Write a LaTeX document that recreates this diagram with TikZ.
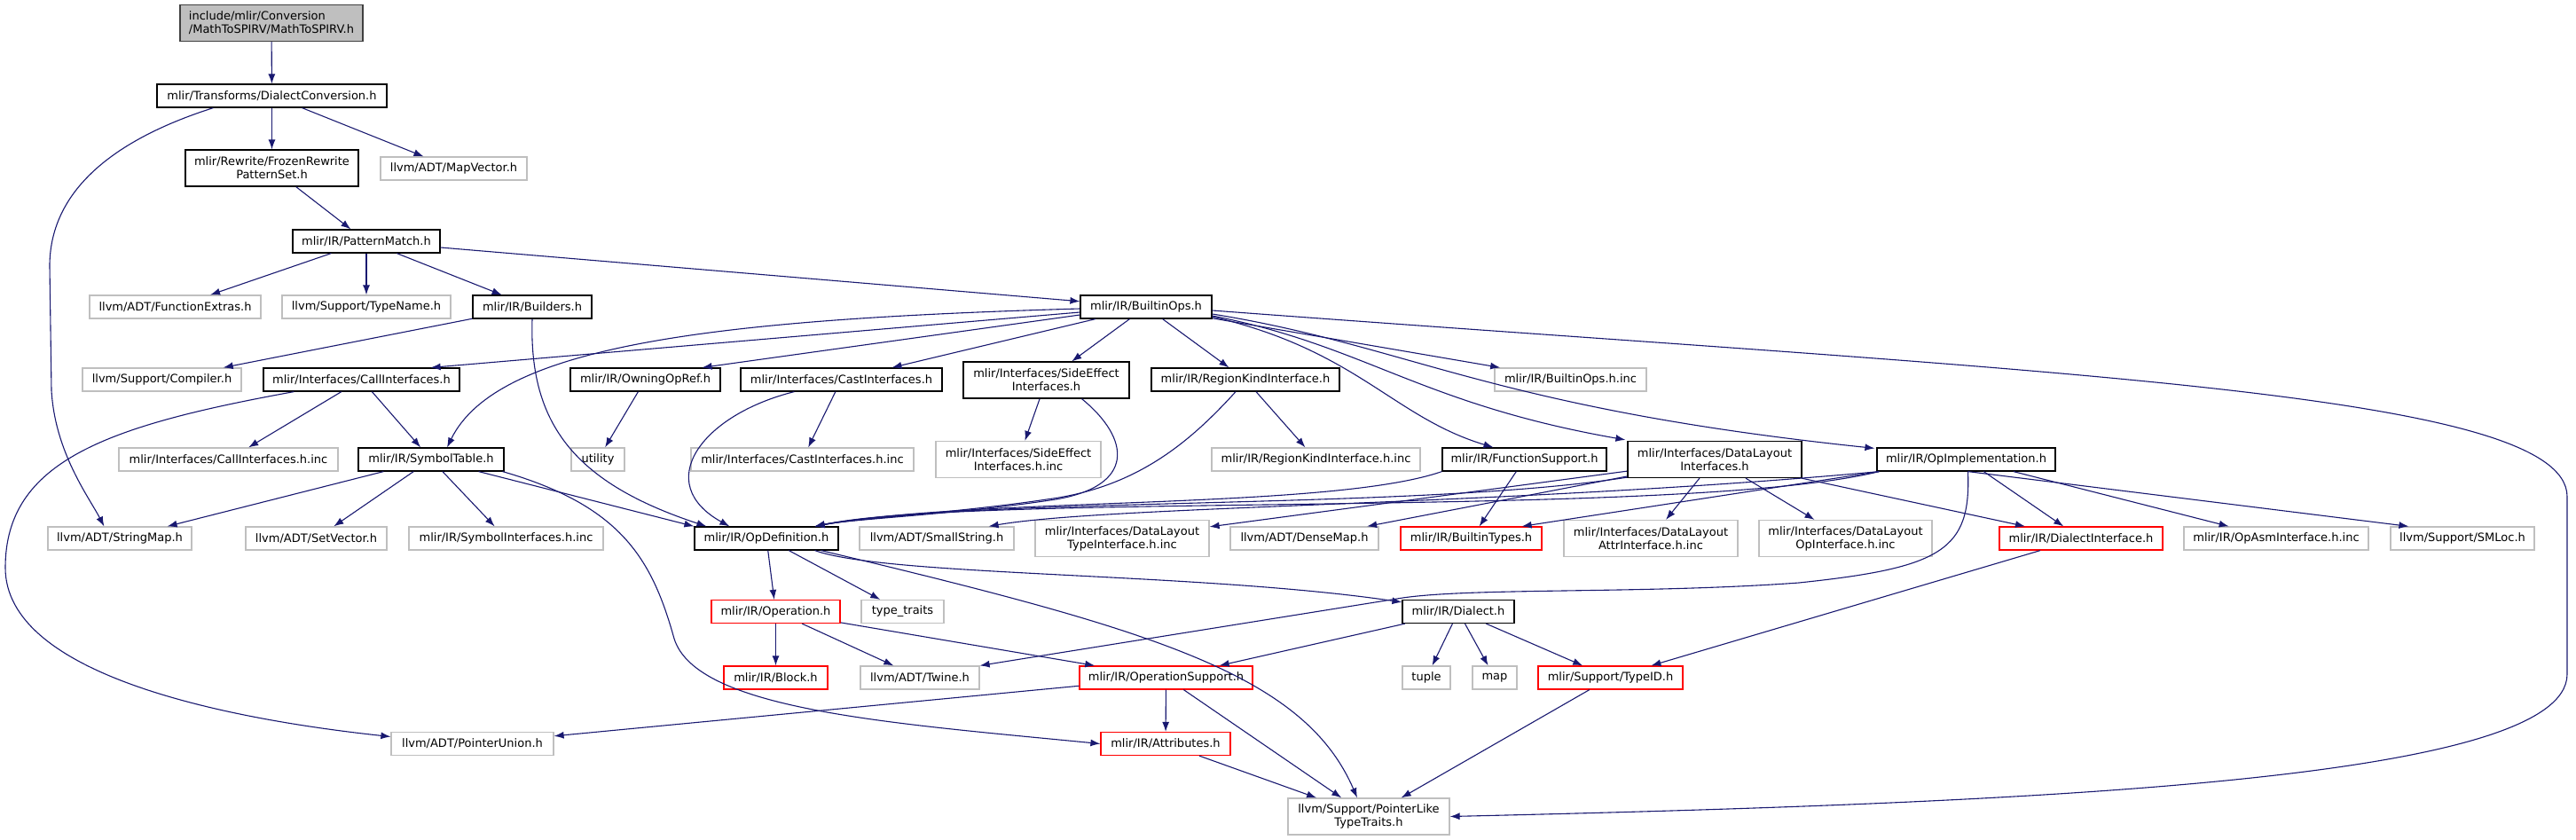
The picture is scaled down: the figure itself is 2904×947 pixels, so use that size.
\documentclass[tikz,border=0pt]{standalone}
\usepackage{fontspec}
\setmainfont{DejaVu Sans}
\usetikzlibrary{arrows.meta, positioning, calc}
\definecolor{edgeblue}{RGB}{25,25,112}
\definecolor{boxgray}{RGB}{191,191,191}
\definecolor{boxdark}{RGB}{64,64,64}
\definecolor{boxred}{RGB}{255,0,0}

\begin{document}
\begin{tikzpicture}[x=1pt, y=-1pt,
  every node/.style={font=\fontsize{13}{15}\selectfont, inner sep=0pt, minimum height=26pt, align=center},
  box/.style={draw=black, line width=1.2pt, fill=white},
  gbox/.style={draw=boxgray, line width=1.2pt, fill=white},
  rbox/.style={draw=boxred, line width=1.2pt, fill=white},
  rootbox/.style={draw=boxdark, line width=1.2pt, fill=boxgray, align=left},
  tall/.style={minimum height=41pt},
  dep/.style={edgeblue, line width=1.1pt, -{Latex[length=11pt,width=8pt]}}]
  \useasboundingbox (0,0) rectangle (2904,947);

  \node[rootbox, minimum width=206, tall] (root) at (306,26) {include/mlir/Conversion\\/MathToSPIRV/MathToSPIRV.h};
  \node[box, minimum width=259] (dconv) at (306.5,108) {mlir/Transforms/DialectConversion.h};
  \node[box, minimum width=195, tall] (frozen) at (306.5,189.5) {mlir/Rewrite/FrozenRewrite\\PatternSet.h};
  \node[gbox, minimum width=165] (mapvec) at (511.5,190) {llvm/ADT/MapVector.h};
  \node[box, minimum width=166] (pmatch) at (413,272) {mlir/IR/PatternMatch.h};
  \node[gbox, minimum width=193] (fextras) at (197.5,346) {llvm/ADT/FunctionExtras.h};
  \node[gbox, minimum width=190] (typename) at (413,346) {llvm/Support/TypeName.h};
  \node[box, minimum width=134] (builders) at (600,346) {mlir/IR/Builders.h};
  \node[box, minimum width=148] (bops) at (1292,346) {mlir/IR/BuiltinOps.h};

  \node[gbox, minimum width=179] (compiler) at (182.5,428) {llvm/Support/Compiler.h};
  \node[box, minimum width=221] (callif) at (407.5,428) {mlir/Interfaces/CallInterfaces.h};
  \node[box, minimum width=169] (owning) at (727.5,428) {mlir/IR/OwningOpRef.h};
  \node[box, minimum width=227] (castif) at (948.5,428) {mlir/Interfaces/CastInterfaces.h};
  \node[box, minimum width=187, tall] (sideeff) at (1179.5,428.5) {mlir/Interfaces/SideEffect\\Interfaces.h};
  \node[box, minimum width=212] (regionkind) at (1404,428) {mlir/IR/RegionKindInterface.h};
  \node[gbox, minimum width=171] (bopsinc) at (1770.5,428) {mlir/IR/BuiltinOps.h.inc};

  \node[gbox, minimum width=247] (callinc) at (257.5,518) {mlir/Interfaces/CallInterfaces.h.inc};
  \node[box, minimum width=164] (symtab) at (486,518) {mlir/IR/SymbolTable.h};
  \node[gbox, minimum width=60] (utility) at (674,518) {utility};
  \node[gbox, minimum width=251] (castinc) at (904.5,518) {mlir/Interfaces/CastInterfaces.h.inc};
  \node[gbox, minimum width=186, tall] (sideinc) at (1148,518) {mlir/Interfaces/SideEffect\\Interfaces.h.inc};
  \node[gbox, minimum width=235] (regioninc) at (1483.5,518) {mlir/IR/RegionKindInterface.h.inc};
  \node[box, minimum width=185] (funcsup) at (1718.5,518) {mlir/IR/FunctionSupport.h};
  \node[box, minimum width=196, tall] (dlif) at (1933,518) {mlir/Interfaces/DataLayout\\Interfaces.h};
  \node[box, minimum width=201] (opimpl) at (2216.5,518) {mlir/IR/OpImplementation.h};

  \node[gbox, minimum width=162] (stringmap) at (135,607) {llvm/ADT/StringMap.h};
  \node[gbox, minimum width=159] (setvec) at (356.5,607) {llvm/ADT/SetVector.h};
  \node[gbox, minimum width=219] (syminc) at (570.5,607) {mlir/IR/SymbolInterfaces.h.inc};
  \node[box, minimum width=162] (opdef) at (864,607) {mlir/IR/OpDefinition.h};
  \node[gbox, minimum width=174] (smallstr) at (1056,607) {llvm/ADT/SmallString.h};
  \node[gbox, minimum width=196, tall] (dltype) at (1265,607) {mlir/Interfaces/DataLayout\\TypeInterface.h.inc};
  \node[gbox, minimum width=167] (densemap) at (1470.5,607) {llvm/ADT/DenseMap.h};
  \node[rbox, minimum width=159] (btypes) at (1658.5,607) {mlir/IR/BuiltinTypes.h};
  \node[gbox, minimum width=196, tall] (dlattr) at (1861,607) {mlir/Interfaces/DataLayout\\AttrInterface.h.inc};
  \node[gbox, minimum width=195, tall] (dlop) at (2080.5,607) {mlir/Interfaces/DataLayout\\OpInterface.h.inc};
  \node[rbox, minimum width=184] (dialif) at (2346,607) {mlir/IR/DialectInterface.h};
  \node[gbox, minimum width=208] (opasm) at (2566,607) {mlir/IR/OpAsmInterface.h.inc};
  \node[gbox, minimum width=162] (smloc) at (2776,607) {llvm/Support/SMLoc.h};

  \node[rbox, minimum width=145] (operation) at (874.5,689.5) {mlir/IR/Operation.h};
  \node[gbox, minimum width=93] (typetraits) at (1017.5,689.5) {type\_traits};
  \node[box, minimum width=126] (dialect) at (1644,689.5) {mlir/IR/Dialect.h};

  \node[rbox, minimum width=117] (block) at (874.5,764) {mlir/IR/Block.h};
  \node[gbox, minimum width=134] (twine) at (1037,764) {llvm/ADT/Twine.h};
  \node[rbox, minimum width=195] (opsupport) at (1314.5,764) {mlir/IR/OperationSupport.h};
  \node[gbox, minimum width=54] (tuple) at (1608,764) {tuple};
  \node[gbox, minimum width=50] (stdmap) at (1685,764) {map};
  \node[rbox, minimum width=163] (typeid) at (1815.5,764) {mlir/Support/TypeID.h};

  \node[gbox, minimum width=183] (ptrunion) at (532.5,838.5) {llvm/ADT/PointerUnion.h};
  \node[rbox, minimum width=146] (attrs) at (1314,838.5) {mlir/IR/Attributes.h};
  \node[gbox, minimum width=182, tall] (ptrlike) at (1543,920.5) {llvm/Support/PointerLike\\TypeTraits.h};

  % top of the graph
  \draw[dep] (root) -- (dconv);
  \draw[dep] (dconv) -- (frozen);
  \draw[dep] (dconv) -- (mapvec);
  \draw[dep] ($(dconv.south west)+(64,0)$) .. controls (120,160) and (56,220) .. (56,300) -- (58,440)
    .. controls (62,510) and (100,560) .. ($(stringmap.north west)+(64,0)$);
  \draw[dep] (frozen) -- (pmatch);
  \draw[dep] (pmatch) -- (fextras);
  \draw[dep] (pmatch) -- (typename);
  \draw[dep] (pmatch) -- (builders);
  \draw[dep] (pmatch) -- (bops);
  \draw[dep] (builders) -- (compiler);
  \draw[dep] (builders.south) .. controls (596,480) and (650,545) .. ($(opdef.north west)+(14,0)$);

  % out of BuiltinOps.h
  \draw[dep] ($(bops.west)+(0,2)$) .. controls (800,360) and (560,390) .. ($(symtab.north)+(18,0)$);
  \draw[dep] ($(bops.west)+(0,6)$) -- ($(callif.north east)+(-33,0)$);
  \draw[dep] ($(bops.west)+(0,9)$) -- ($(owning.north)+(64,0)$);
  \draw[dep] (bops) -- (castif);
  \draw[dep] (bops) -- (sideeff);
  \draw[dep] (bops) -- (regionkind);
  \draw[dep] (bops) -- (bopsinc);
  \draw[dep] ($(bops.east)+(0,11)$) .. controls (1530,395) and (1570,470) .. ($(funcsup.north)+(-35,0)$);
  \draw[dep] ($(bops.east)+(0,10)$) .. controls (1540,390) and (1600,455) .. ($(dlif.north west)+(-2,-1)$);
  \draw[dep] ($(bops.east)+(0,8)$) .. controls (1590,390) and (1680,460) .. ($(opimpl.north west)+(-2,1)$);
  \draw[dep] ($(bops.east)+(0,4)$) .. controls (2300,420) and (2894,440) .. (2894,560) -- (2894,760)
    .. controls (2894,880) and (2300,905) .. (ptrlike.east);

  % second row
  \draw[dep] ($(callif.south west)+(35,0)$) .. controls (120,480) and (6,520) .. (6,640)
    .. controls (6,760) and (250,810) .. ($(ptrunion.west)+(0,-8)$);
  \draw[dep] (callif) -- (callinc);
  \draw[dep] (callif) -- (symtab);
  \draw[dep] (owning) -- (utility);
  \draw[dep] (castif) -- (castinc);
  \draw[dep] ($(castif.south west)+(61,0)$) .. controls (790,468) and (735,545) .. ($(opdef.north west)+(40,0)$);
  \draw[dep] (sideeff) -- (sideinc);
  \draw[dep] ($(sideeff.south)+(40,0)$) .. controls (1275,495) and (1280,548) .. (1190,563)
    .. controls (1080,580) and (960,585) .. ($(opdef.north east)+(-27,0)$);
  \draw[dep] (regionkind) -- (regioninc);
  \draw[dep] ($(regionkind.south)+(-11,0)$) .. controls (1340,500) and (1280,550) .. (1180,563)
    .. controls (1080,578) and (960,585) .. ($(opdef.north east)+(-27,0)$);

  % third row
  \draw[dep] (symtab) -- (stringmap);
  \draw[dep] (symtab) -- (setvec);
  \draw[dep] (symtab) -- (syminc);
  \draw[dep] ($(symtab.south east)+(-29,0)$) -- ($(opdef.north west)+(0,0)$);
  \draw[dep] ($(symtab.south east)+(-2,0)$) .. controls (700,570) and (735,630) .. (760,720)
    .. controls (785,800) and (1000,815) .. (attrs.west);
  \draw[dep] (funcsup.south west) .. controls (1500,575) and (1100,560) .. ($(opdef.north east)+(-27,0)$);
  \draw[dep] (funcsup) -- (btypes);
  \draw[dep] ($(dlif.south west)+(0,-1)$) .. controls (1600,575) and (1100,560) .. ($(opdef.north east)+(-27,0)$);
  \draw[dep] (dlif) -- (densemap);
  \draw[dep] (dlif) -- (dltype);
  \draw[dep] (dlif) -- (dlattr);
  \draw[dep] (dlif) -- (dlop);
  \draw[dep] (dlif) -- (dialif);
  \draw[dep] ($(opimpl.south west)+(3,0)$) .. controls (1900,585) and (1100,555) .. ($(opdef.north east)+(-27,0)$);
  \draw[dep] ($(opimpl.south west)+(3,0)$) .. controls (1700,570) and (1250,570) .. ($(smallstr.north east)+(-29,0)$);
  \draw[dep] ($(opimpl.south west)+(3,0)$) -- ($(btypes.north east)+(-23,0)$);
  \draw[dep] (opimpl) -- (dialif);
  \draw[dep] (opimpl) -- (opasm);
  \draw[dep] ($(opimpl.south east)+(-99,0)$) -- ($(smloc.north west)+(21,0)$);
  \draw[dep] ($(opimpl.south)+(2,0)$) .. controls (2222,620) and (2190,640) .. (2028,657)
    .. controls (1850,670) and (1650,662) .. (1575,675) -- (twine.north east);

  % lower part
  \draw[dep] (opdef) -- (operation);
  \draw[dep] (opdef) -- (typetraits);
  \draw[dep] ($(opdef.south east)+(-27,0)$) .. controls (1000,650) and (1350,645) .. ($(dialect.north west)+(0,3)$);
  \draw[dep] ($(opdef.south east)+(-20,0)$) .. controls (1300,710) and (1470,760) .. ($(ptrlike.north)+(-13,0)$);
  \draw[dep] (operation) -- (block);
  \draw[dep] (operation) -- (twine);
  \draw[dep] (operation) -- (opsupport);
  \draw[dep] (dialect) -- (opsupport);
  \draw[dep] (dialect) -- (tuple);
  \draw[dep] (dialect) -- (stdmap);
  \draw[dep] (dialect) -- (typeid);
  \draw[dep] (dialif) -- (typeid);
  \draw[dep] (opsupport) -- (ptrunion);
  \draw[dep] (opsupport) -- (attrs);
  \draw[dep] (opsupport) -- (ptrlike);
  \draw[dep] (attrs) -- (ptrlike);
  \draw[dep] (typeid) -- (ptrlike);
\end{tikzpicture}
\end{document}
